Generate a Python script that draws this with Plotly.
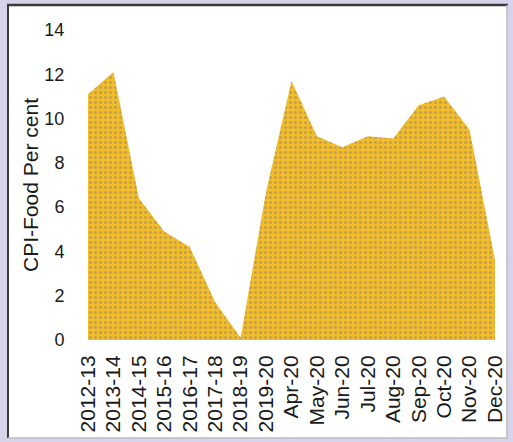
import plotly.graph_objects as go

# CPI-Food inflation, per cent
periods = ['2012-13', '2013-14', '2014-15', '2015-16', '2016-17', '2017-18',
           '2018-19', '2019-20', 'Apr-20', 'May-20', 'Jun-20', 'Jul-20',
           'Aug-20', 'Sep-20', 'Oct-20', 'Nov-20', 'Dec-20']
cpi_food = [11.1, 12.1, 6.4, 4.9, 4.2, 1.7, 0.1, 6.7, 11.7, 9.2, 8.7, 9.2,
            9.1, 10.6, 11.0, 9.5, 3.6]
y_ticks = [0, 2, 4, 6, 8, 10, 12, 14]

W, H = 513, 442
ml, mr, mt, mb = 88, 18, 30, 102
pw, ph = W - ml - mr, H - mt - mb


# frame helpers: pixel -> paper coords
def px(x):
    return (x - ml) / pw


def py(y):
    return (H - mb - y) / ph


fig = go.Figure()
fig.add_trace(go.Scatter(
    x=periods, y=cpi_food, mode='lines', fill='tozeroy',
    line=dict(width=0, color='#f2bc2c'),
    fillcolor='#f2bc2c',
    fillpattern=dict(shape='.', bgcolor='#f4bd28', fgcolor='#8a8279',
                     size=5, solidity=0.3),
    hoverinfo='x+y', showlegend=False))

font = 'Liberation Sans, Arial, sans-serif'

shapes = [
    dict(type='rect', xref='paper', yref='paper', x0=px(8), x1=px(507),
         y0=py(438), y1=py(5), fillcolor='white', line=dict(width=0),
         layer='below'),
    dict(type='line', xref='paper', yref='paper', x0=px(7), x1=px(508),
         y0=py(5), y1=py(5), line=dict(color='#3a3a3a', width=2.5)),
    dict(type='line', xref='paper', yref='paper', x0=px(8), x1=px(8),
         y0=py(5), y1=py(438), line=dict(color='#3a3a3a', width=2)),
    dict(type='line', xref='paper', yref='paper', x0=px(8), x1=px(508),
         y0=py(438), y1=py(438), line=dict(color='#bdbdbd', width=1.5)),
    dict(type='line', xref='paper', yref='paper', x0=px(507), x1=px(507),
         y0=py(5), y1=py(438), line=dict(color='#bdbdbd', width=1.5)),
]

fig.update_layout(
    width=W, height=H,
    margin=dict(l=ml, r=mr, t=mt, b=mb, pad=0, autoexpand=False),
    paper_bgcolor='#d6d3ea', plot_bgcolor='rgba(0,0,0,0)',
    font=dict(family=font, color='#1a1a1a'),
    shapes=shapes,
    xaxis=dict(type='category', range=[0, len(periods) - 1],
               tickmode='array', tickvals=periods, ticktext=periods,
               automargin=False,
               showgrid=False, zeroline=False, showline=False,
               tickangle=-90, tickfont=dict(size=21, color='#1a1a1a'),
               ticks='outside', ticklen=6, tickcolor='rgba(0,0,0,0)'),
    yaxis=dict(range=[0, 14], tickvals=y_ticks, showgrid=False,
               automargin=False,
               zeroline=False, showline=False,
               tickfont=dict(size=18, color='#1a1a1a'),
               ticks='outside', ticklen=19, tickcolor='rgba(0,0,0,0)',
               title=dict(text='CPI-Food Per cent', standoff=0,
                          font=dict(size=21, color='#1a1a1a'))),
)

# page body has a default 8px margin; drop it so the chart sits at 0,0
fig.write_html('out.html', config={'displayModeBar': False},
               post_script="document.body.style.margin='0';")
